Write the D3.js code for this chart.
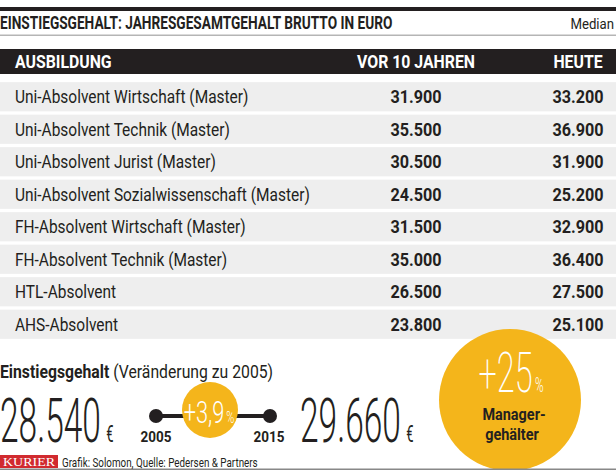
<!DOCTYPE html>
<html>
<head>
<meta charset="utf-8">
<script src="https://cdn.jsdelivr.net/npm/d3@7"></script>
<style>
  body { margin: 0; background: #fff; }
  text { font-family: Roboto, "Noto Sans", sans-serif; }
</style>
</head>
<body>
<div id="container"></div>
<script>
let w = 616;
let h = 470;

let dark = '#231f20';
let yellow = '#f4b51b';
let rowColor = '#eeeeee';

// data
let columns = ['AUSBILDUNG', 'VOR 10 JAHREN', 'HEUTE'];
let categories = [
  'Uni-Absolvent Wirtschaft (Master)',
  'Uni-Absolvent Technik (Master)',
  'Uni-Absolvent Jurist (Master)',
  'Uni-Absolvent Sozialwissenschaft (Master)',
  'FH-Absolvent Wirtschaft (Master)',
  'FH-Absolvent Technik (Master)',
  'HTL-Absolvent',
  'AHS-Absolvent'
];
let vor10 = [31900, 35500, 30500, 24500, 31500, 35000, 26500, 23800];
let heute = [33200, 36900, 31900, 25200, 32900, 36400, 27500, 25100];
let years = ['2005', '2015'];
let avgSalary = [28540, 29660];
let avgChange = 3.9;
let managerChange = 25;

let de = d3.formatLocale({ decimal: ',', thousands: '.', grouping: [3], currency: ['', '€'] });
let fmt = de.format(',d');
let fmtPct = de.format('+.1f');

let svg = d3.select('#container')
  .append('svg')
    .attr('width', w)
    .attr('height', h);

// condensed text: everything is squeezed horizontally
function txt(x, y, str, size, weight, sx, anchor, fill) {
  let g = svg.append('g')
    .attr('transform', 'translate(' + x + ',' + y + ') scale(' + sx + ',1)');
  return g.append('text')
    .attr('text-anchor', anchor || 'start')
    .attr('font-size', size)
    .attr('font-weight', weight)
    .attr('fill', fill || dark)
    .text(str);
}

//title band
svg.append('rect').attr('x', 0).attr('y', 7).attr('width', w).attr('height', 4).attr('fill', dark);
svg.append('rect').attr('x', 0).attr('y', 34.5).attr('width', w).attr('height', 1.5).attr('fill', '#b5b5b5');
txt(0, 28.5, 'EINSTIEGSGEHALT: JAHRESGESAMTGEHALT BRUTTO IN EURO', 18, 700, 0.76);
txt(614, 28.5, 'Median', 15, 400, 0.88, 'end');

//table
let colX = [15, 416, 578];
let y = d3.scaleBand()
  .domain(categories)
  .range([80.5, 340.5])
  .paddingInner(0.1)
  .paddingOuter(0.05);

svg.append('rect').attr('x', 0).attr('y', 49).attr('width', w).attr('height', 25).attr('fill', dark);
columns.forEach(function(c, i) {
  txt(colX[i], 68, c, 18, 700, 0.88, i == 0 ? 'start' : 'middle', '#fff');
});

let rows = svg.selectAll('.row').data(categories)
  .enter()
  .append('g')
  .attr('class', 'row');

rows.append('rect')
  .attr('x', 0)
  .attr('y', d => y(d))
  .attr('width', w)
  .attr('height', y.bandwidth())
  .attr('fill', rowColor);

categories.forEach(function(d, i) {
  let cy = y(d) + y.bandwidth() / 2 + 6.5;
  txt(colX[0], cy, d, 18, 400, 0.86);
  txt(colX[1], cy, fmt(vor10[i]), 18, 700, 0.9, 'middle');
  txt(colX[2], cy, fmt(heute[i]), 18, 700, 0.9, 'middle');
});

//bottom part
let sub = txt(0, 378, 'Einstiegsgehalt', 19, 700, 0.83);
sub.append('tspan').attr('font-weight', 400).text(' (Veränderung zu 2005)');

function bigNumber(x, v) {
  let t = txt(x, 442, fmt(v), 62, 300, 0.54);
  t.append('tspan').attr('font-size', 24).attr('font-weight', 400).attr('dx', 10).text('€');
}
bigNumber(0, avgSalary[0]);
bigNumber(300, avgSalary[1]);

let tx = d3.scalePoint().domain(years).range([156, 270]);
svg.append('line')
  .attr('x1', tx(years[0])).attr('x2', tx(years[1]))
  .attr('y1', 416).attr('y2', 416)
  .attr('stroke', dark).attr('stroke-width', 4);
svg.selectAll('.dot').data(years)
  .enter()
  .append('circle')
  .attr('class', 'dot')
  .attr('cx', d => tx(d))
  .attr('cy', 416)
  .attr('r', 7)
  .attr('fill', dark);
years.forEach(function(d) {
  txt(tx(d) + (d == years[0] ? 0 : -1), 442, d, 15, 700, 0.9, 'middle');
});

let mid = (tx(years[0]) + tx(years[1])) / 2;
svg.append('circle').attr('cx', mid - 3).attr('cy', 410).attr('r', 28).attr('fill', yellow);
let pc = txt(mid - 4, 423, fmtPct(avgChange), 32, 300, 0.68, 'middle', '#fff');
pc.append('tspan').attr('font-size', 16).attr('dx', 3).text('%');

//manager circle
svg.append('circle').attr('cx', 510).attr('cy', 400).attr('r', 71).attr('fill', yellow);
let mc = txt(511, 392, '+' + managerChange, 56, 200, 0.58, 'middle', '#fff');
mc.append('tspan').attr('font-size', 20).attr('font-weight', 300).attr('dx', 4).text('%');
txt(514, 420, 'Manager-', 17, 700, 0.85, 'middle');
txt(512, 440, 'gehälter', 17, 700, 0.85, 'middle');

//footer
svg.append('rect').attr('x', 0).attr('y', 468.5).attr('width', w).attr('height', 1.5).attr('fill', '#888');
svg.append('rect').attr('x', 0).attr('y', 455).attr('width', 58).attr('height', 13).attr('fill', '#d12a2f');
svg.append('text')
  .attr('x', 3).attr('y', 466)
  .attr('font-size', 12)
  .attr('textLength', 52)
  .attr('lengthAdjust', 'spacingAndGlyphs')
  .attr('fill', '#fff')
  .style('font-family', '"Liberation Serif", "DejaVu Serif", serif')
  .text('KURIER');
txt(62, 467, 'Grafik: Solomon, Quelle: Pedersen & Partners', 12, 400, 0.82);
</script>
</body>
</html>
